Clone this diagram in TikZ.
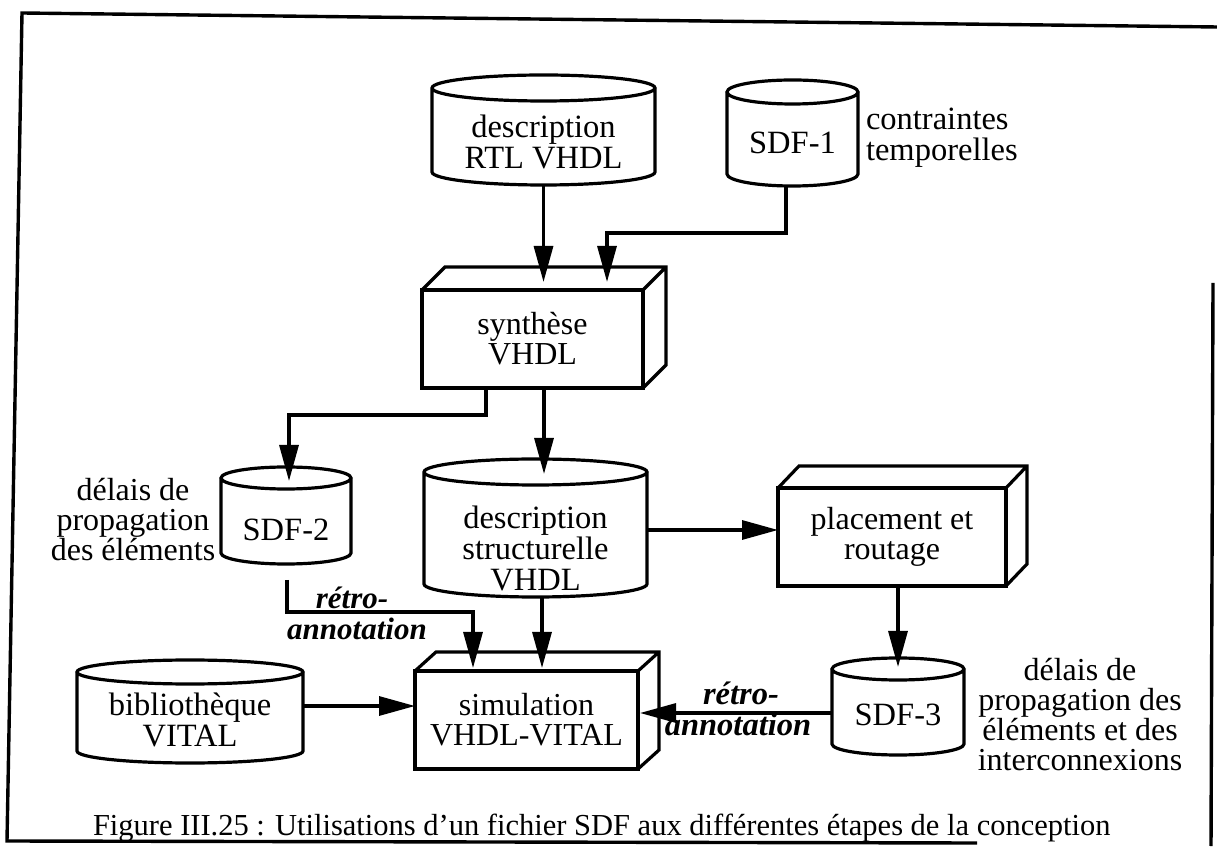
\documentclass[tikz,border=0pt]{standalone}
\usepackage{fontspec}
\setmainfont{Liberation Serif}
\usetikzlibrary{arrows.meta,calc}

\tikzset{
  lw/.style={line width=3.2pt},
  framelw/.style={line width=3.4pt, line join=miter},
  txt/.style={font=\fontsize{32.5}{31}\selectfont, align=center, inner sep=0pt, outer sep=0pt},
  tight/.style={font=\fontsize{32}{30}\selectfont},
  ann/.style={font=\fontsize{31}{30}\selectfont\bfseries\itshape, inner sep=0pt, anchor=base},
  annbig/.style={ann, font=\fontsize{32.5}{30}\selectfont\bfseries\itshape},
  arr/.style={lw, -{Triangle[length=36pt,width=19pt]}},
  cylbox/.style 2 args={minimum width=#1pt, minimum height=#2pt, inner sep=0pt, outer sep=0pt},
  boxface/.style 2 args={draw, lw, txt, tight, minimum width=#1pt, minimum height=#2pt},
}

% cylinder outline around a named node: #1 node, #2 half height of the end ellipses
\newcommand\cylout[2]{%
  \draw[lw] let \p1=(#1.north west), \p2=(#1.south east), \n1={(\x2-\x1)/2} in
    (\x1,\y1-#2pt) -- (\x1,\y2+#2pt)
      arc[start angle=180, end angle=360, x radius=\n1, y radius=#2pt]
      -- (\x2,\y1-#2pt)
    (\x1+\n1,\y1-#2pt) ellipse[x radius=\n1, y radius=#2pt];}

% top and side faces of a box drawn behind a named front face: #1 node, #2 dx, #3 dy
\newcommand\boxback[3]{%
  \draw[lw, line join=miter] (#1.north west) -- ++(#2pt,#3pt)
    -| ($(#1.south east)+(#2pt,#3pt)$) -- (#1.south east)
    (#1.north east) -- ++(#2pt,#3pt);}

\begin{document}
\begin{tikzpicture}[x=1pt, y=1pt]
\useasboundingbox (0,0) rectangle (1217,846);

% frame
\draw[framelw] (977,3) -- (7,5) -- (22,833) -- (1217,819);
\draw[framelw] (1213,563) -- (1211,0);

% data files
\node[cylbox={223}{110}, label={[txt,yshift=-12pt]center:{description\\RTL VHDL}}] (rtl) at (543.5,716) {};
\node[cylbox={131}{106}, label={[txt,yshift=-10pt]center:{SDF-1}}] (sdf1) at (792.5,713) {};
\node[cylbox={130}{97}, label={[txt,yshift=-14pt]center:{SDF-2}}] (sdf2) at (286,330.5) {};
\node[cylbox={223}{138}, label={[txt,yshift=-20pt]center:{description\\structurelle\\VHDL}}] (desc) at (535.5,318) {};
\node[cylbox={226}{103}, label={[txt,yshift=-8.5pt]center:{bibliothèque\\VITAL}}] (bib) at (190,134.5) {};
\node[cylbox={132}{97}, label={[txt,yshift=-8.5pt]center:{SDF-3}}] (sdf3) at (898,139.5) {};
\cylout{rtl}{13}
\cylout{sdf1}{12}
\cylout{sdf2}{11}
\cylout{desc}{13}
\cylout{bib}{12}
\cylout{sdf3}{11}

% tools
\node[boxface={221}{98}] (synth) at (532.5,507) {synthèse\\VHDL};
\node[boxface={228}{98}] (place) at (892,309) {placement et\\routage};
\node[boxface={223}{98}] (sim) at (526.5,126) {simulation\\VHDL-VITAL};
\boxback{synth}{23}{23}
\boxback{place}{21}{22}
\boxback{sim}{21}{19}

% side notes
\node[txt, anchor=west, align=left] (ct) at (866,708) {contraintes\\temporelles};
\node[txt, tight] (d2) at (133,326) {délais de\\propagation\\des éléments};
\node[txt, tight] (d3) at (1080,131) {délais de\\propagation des\\éléments et des\\interconnexions};
\node[ann] (r2a) at (352,237) {rétro-};
\node[ann] (r2b) at (357,207) {annotation};
\node[annbig] (r3a) at (741,142) {rétro-};
\node[annbig] (r3b) at (738,111) {annotation};

% flow
\draw[arr] (rtl.south) -- ($(rtl.south |- synth.north)+(0,8)$);
\draw[arr] ($(sdf1.south)+(-6.5,0)$) -- ++(0,-47) -| ($(synth.north)+(74.5,8)$);
\draw[arr] ($(synth.south)+(-46.5,0)$) -- ++(0,-27) -| ($(sdf2.north)+(3,-14)$);
\draw[arr] ($(synth.south)+(11.5,0)$) -- ($(desc.north)+(8.5,-15)$);
\draw[arr] ($(desc.south)+(6.5,0)$) -- ($(sim.north)+(15.5,3)$);
\draw[arr] ($(sdf2.south)+(1,-16)$) -- ++(0,-32) -| ($(sim.north)+(-53.5,3)$);
\draw[arr] ($(bib.east)+(0,5.5)$) -- ($(sim.west)+(0,14)$);
\draw[arr] ($(desc.east)+(0,-2)$) -- ($(place.west)+(0,7)$);
\draw[arr] ($(place.south)+(6,0)$) -- ($(sdf3.north)+(0,-9)$);
\draw[arr] ($(sdf3.west)+(0,-6.5)$) -- ($(sim.east)+(2,7)$);

% caption
\node[txt, anchor=base west, font=\fontsize{30.5}{32}\selectfont] (cap) at (93,11)
  {Figure III.25 : Utilisations d'un fichier SDF aux différentes étapes de la conception};
\end{tikzpicture}
\end{document}
